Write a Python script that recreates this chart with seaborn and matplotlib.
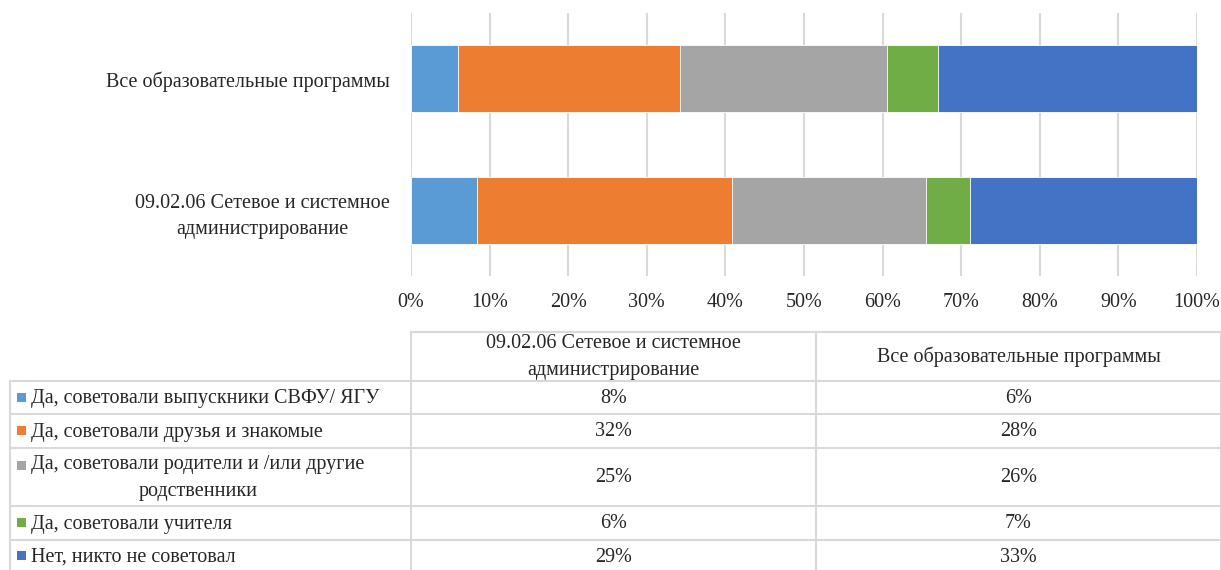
import numpy as np
import pandas as pd
import matplotlib
matplotlib.use("Agg")
import matplotlib.pyplot as plt
import seaborn as sns

# programs as they appear on the chart (top to bottom)
programs = ["Все образовательные программы",
            "09.02.06 Сетевое и системное\nадминистрирование"]
answers = ["Да, советовали выпускники СВФУ/ ЯГУ",
           "Да, советовали друзья и знакомые",
           "Да, советовали родители и /или другие\nродственники",
           "Да, советовали учителя",
           "Нет, никто не советовал"]
# shares in %, one list per answer: [все программы, 09.02.06]
graduates = [6.0, 8.4]
friends = [28.2, 32.4]
parents = [26.3, 24.7]
teachers = [6.6, 5.6]
nobody = [32.9, 28.9]
colors = ["#5B9BD5", "#ED7D31", "#A5A5A5", "#70AD47", "#4472C4"]

sns.set_theme(style="white")
plt.rcParams['font.family'] = ['Liberation Serif', 'DejaVu Serif']
FS = 14.5
LS = 1.55

series = np.array([graduates, friends, parents, teachers, nobody])
cum = series.cumsum(axis=0)

W, H = 1221, 570
fig = plt.figure(figsize=(W / 100, H / 100), dpi=100)

# table drawn in pixel coordinates on a full-figure axes
tab = fig.add_axes([0, 0, 1, 1])
tab.set_xlim(0, W)
tab.set_ylim(H, 0)
tab.set_axis_off()

ax = fig.add_axes([411 / W, 1 - 276 / H, (1197 - 411) / W, (276 - 13) / H])

for i in reversed(range(len(answers))):
    df = pd.DataFrame({"prog": programs, "val": cum[i]})
    sns.barplot(data=df, x="val", y="prog", orient="h", color=colors[i],
                saturation=1, width=0.51, edgecolor="white", linewidth=0.6,
                ax=ax, zorder=3)

ax.set_xlim(0, 100)
ax.set_ylim(1.5, -0.5)
ax.set_xticks(np.arange(0, 101, 10))
ax.set_xticklabels([f"{t}%" for t in range(0, 101, 10)], fontsize=FS)
ax.set_yticks(range(len(programs)))
ax.set_yticklabels(programs, fontsize=FS, multialignment="center",
                   linespacing=LS)
ax.set_xlabel("")
ax.set_ylabel("")
ax.grid(axis="x", color="#D9D9D9", linewidth=1.5, zorder=0)
ax.set_axisbelow(True)
for s in ax.spines.values():
    s.set_visible(False)
ax.tick_params(axis="x", length=0, pad=12)
ax.tick_params(axis="y", length=0, pad=15)

# ---- data table ----
lc = "#D9D9D9"
lw = 1.5
col_x = [411, 816, 1221]
row_y = [381, 414, 448, 506, 540, 572]
tab.plot([411, W], [332, 332], color=lc, lw=lw)
for y in row_y:
    tab.plot([10, W], [y, y], color=lc, lw=lw)
tab.plot([10, 10], [381, H], color=lc, lw=lw)
for x in col_x:
    tab.plot([x, x], [332, H], color=lc, lw=lw)

# header: table columns in the reverse order of the bars
table_cols = [1, 0]
for j, c in enumerate(table_cols):
    cx = (col_x[j] + col_x[j + 1]) / 2
    tab.text(cx, 357, programs[c], ha="center", va="center", fontsize=FS,
             multialignment="center", linespacing=LS)

for r, name in enumerate(answers):
    cy = (row_y[r] + row_y[r + 1]) / 2 + 1
    ky = cy - 1.5
    if "\n" in name:
        ky -= 11.5
    tab.add_patch(plt.Rectangle((17, ky - 4.5), 9, 9, color=colors[r], lw=0))
    tab.text(31, cy, name, ha="left", va="center", fontsize=FS,
             multialignment="center", linespacing=LS)
    for j, c in enumerate(table_cols):
        cx = (col_x[j] + col_x[j + 1]) / 2
        tab.text(cx, cy, f"{round(series[r, c]):d}%", ha="center",
                 va="center", fontsize=FS)

fig.savefig("out.png", dpi=100)
